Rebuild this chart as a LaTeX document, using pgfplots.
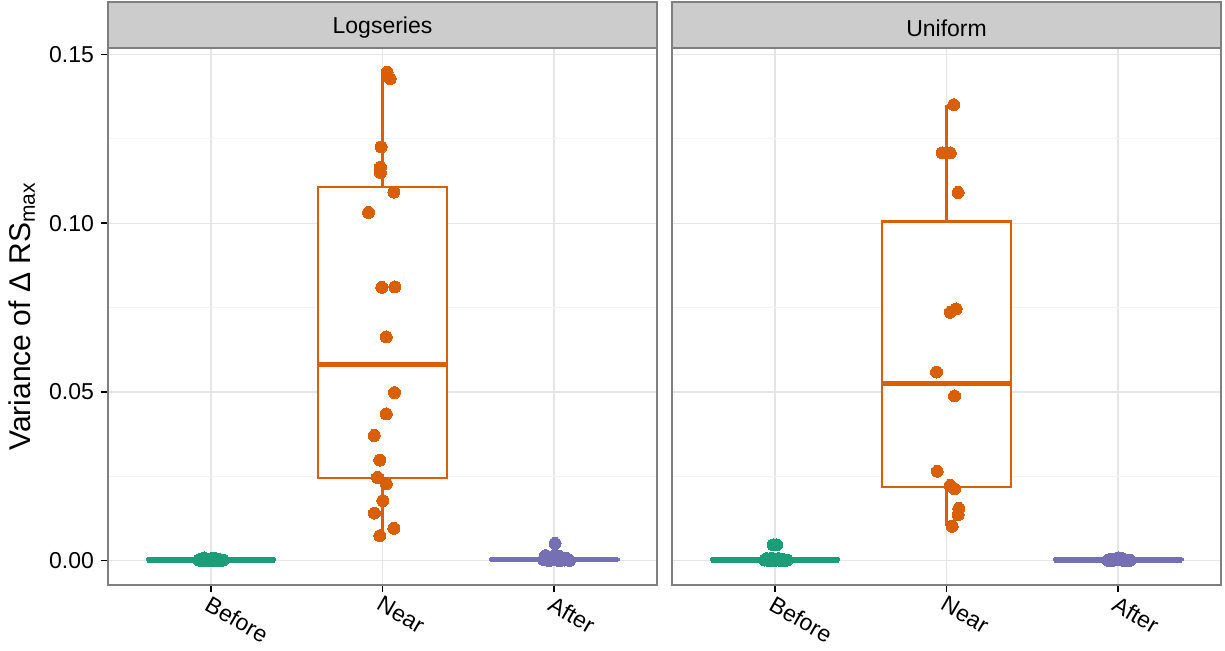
\documentclass[border=0pt]{standalone}
\usepackage{fontspec}
\setmainfont{Liberation Sans}
\usepackage{pgfplots}
\pgfplotsset{compat=1.18}
\usepgfplotslibrary{statistics}
\definecolor{cBefore}{HTML}{1B9E77}
\definecolor{cNear}{HTML}{D95F02}
\definecolor{cAfter}{HTML}{7570B3}
\definecolor{grey50}{HTML}{7F7F7F}
\definecolor{grey80}{HTML}{CCCCCC}
\definecolor{grey90}{HTML}{E5E5E5}
\definecolor{grey97}{HTML}{F4F4F4}
\pgfplotsset{
 panel/.style={
  scale only axis, width=274.5pt, height=268.5pt,
  xmin=0.4, xmax=3.6, ymin=-0.0072, ymax=0.1519,
  xtick={1,2,3}, xticklabels={Before,Near,After},
  ytick={0,0.05,0.1,0.15}, minor ytick={0.025,0.075,0.125},
  grid=both, major grid style={grey90, line width=0.6pt}, minor grid style={grey97, line width=0.6pt},
  axis line style={grey50, line width=0.7pt},
  tick align=outside, tick pos=left, major tick length=3.5pt, minor tick length=0pt,
  tick style={black, line width=0.7pt},
  ticklabel style={font=\fontsize{11.5}{13}\selectfont},
  xticklabel style={rotate=-30, anchor=north west, inner sep=1pt},
  /pgf/number format/assume math mode=true,
  yticklabel style={/pgf/number format/.cd, fixed, fixed zerofill, precision=2},
  scaled y ticks=false,
  boxplot/draw direction=y,
  boxplot/every median/.style={line width=2.6pt},
 },
 bx/.style={line width=1.1pt, fill=white, solid},
 pts/.style={only marks, mark=*, mark size=3pt, mark options={solid, line width=0pt}},
}
\begin{document}
\begin{tikzpicture}
\useasboundingbox (0,0) rectangle (612.5pt,325.5pt);
% ---------------- Logseries ----------------
\begin{axis}[panel, name=ax1, at={(54pt,33pt)}, anchor=south west,
  ylabel={Variance of Δ RS\textsubscript{max}},
  ylabel style={at={(axis description cs:0,0.5)}, anchor=center, yshift=43pt, font=\fontsize{15}{17}\selectfont}]
\addplot[bx, draw=cBefore, boxplot prepared={lower whisker=0, lower quartile=0.0001, median=0.0002, upper quartile=0.0004, upper whisker=0.0008, draw position=1, box extend=0.75, whisker extend=0}, mark=none] table[row sep=\\, y index=0] {y\\ 1\\};
\addplot[pts, cBefore] coordinates {
(0.93,0.0002) (0.94,0.0005) (0.95,0.0001) (0.96,0.0008) (0.97,0.0003) (0.98,0.0000)
(0.99,0.0004) (1.00,0.0001) (1.01,0.0007) (1.02,0.0002) (1.03,0.0006) (1.04,0.0000)
(1.05,0.0003) (1.06,0.0001) (0.95,0.0000) (1.02,0.0000) (1.07,0.0002) (0.98,0.0005)};
\addplot[bx, draw=cNear, boxplot prepared={lower whisker=0.0074, lower quartile=0.0245, median=0.0581, upper quartile=0.1108, upper whisker=0.1447, draw position=2, box extend=0.75, whisker extend=0}, mark=none] table[row sep=\\, y index=0] {y\\ 1\\};
\addplot[pts, cNear] coordinates {
(2.027,0.1447) (2.045,0.1428) (1.992,0.1226) (1.988,0.1166) (1.988,0.1150)
(2.066,0.1092) (1.919,0.1032) (1.996,0.0810) (2.072,0.0811) (2.022,0.0663)
(2.070,0.0498) (2.022,0.0435) (1.952,0.0371) (1.984,0.0298) (1.971,0.0247)
(2.022,0.0228) (2.002,0.0178) (1.953,0.0141) (2.066,0.0096) (1.984,0.0074)};
\addplot[bx, draw=cAfter, boxplot prepared={lower whisker=0, lower quartile=0.0001, median=0.0003, upper quartile=0.0006, upper whisker=0.0015, draw position=3, box extend=0.75, whisker extend=0}, mark=none] table[row sep=\\, y index=0] {y\\ 1\\};
\addplot[pts, cAfter] coordinates {
(2.94,0.0003) (2.95,0.0015) (2.96,0.0006) (2.98,0.0002) (3.00,0.0014) (3.006,0.0051)
(3.01,0.0004) (3.02,0.0009) (3.03,0.0013) (3.04,0.0001) (3.05,0.0005) (3.06,0.0002)
(3.07,0.0007) (3.08,0.0003) (3.09,0.0001) (2.97,0.0000) (3.03,0.0000)};
\end{axis}
\draw[grey50, line width=0.7pt, fill=grey80] (ax1.north west) rectangle ([yshift=23pt]ax1.north east);
\node[font=\fontsize{11.5}{13}\selectfont] at ([yshift=10pt]ax1.north) {Logseries};
% ---------------- Uniform ----------------
\begin{axis}[panel, name=ax2, at={(336pt,33pt)}, anchor=south west,
  yticklabels={}, ytick style={draw=none}]
\addplot[bx, draw=cBefore, boxplot prepared={lower whisker=0, lower quartile=0.0001, median=0.0002, upper quartile=0.0004, upper whisker=0.0007, draw position=1, box extend=0.75, whisker extend=0}, mark=none] table[row sep=\\, y index=0] {y\\ 1\\};
\addplot[pts, cBefore] coordinates {
(0.99,0.0047) (1.01,0.0047)
(0.94,0.0002) (0.95,0.0006) (0.96,0.0001) (0.97,0.0003) (0.98,0.0007) (0.99,0.0000)
(1.00,0.0004) (1.01,0.0002) (1.02,0.0006) (1.03,0.0001) (1.04,0.0005) (1.05,0.0003)
(1.06,0.0000) (1.07,0.0002)};
\addplot[bx, draw=cNear, boxplot prepared={lower whisker=0.0102, lower quartile=0.0218, median=0.0525, upper quartile=0.1005, upper whisker=0.1351, draw position=2, box extend=0.75, whisker extend=0}, mark=none] table[row sep=\\, y index=0] {y\\ 1\\};
\addplot[pts, cNear] coordinates {
(2.042,0.1351) (1.975,0.1208) (2.022,0.1208) (2.068,0.1091) (2.056,0.0746)
(2.022,0.0736) (1.942,0.0559) (2.047,0.0488) (1.946,0.0265) (2.022,0.0223)
(2.047,0.0213) (2.072,0.0155) (2.068,0.0136) (2.033,0.0102)};
\addplot[bx, draw=cAfter, boxplot prepared={lower whisker=0, lower quartile=0.0001, median=0.0002, upper quartile=0.0004, upper whisker=0.0008, draw position=3, box extend=0.75, whisker extend=0}, mark=none] table[row sep=\\, y index=0] {y\\ 1\\};
\addplot[pts, cAfter] coordinates {
(2.94,0.0001) (2.95,0.0003) (2.96,0.0000) (2.97,0.0005) (2.98,0.0002) (2.99,0.0006)
(3.00,0.0008) (3.01,0.0004) (3.02,0.0007) (3.03,0.0001) (3.04,0.0003) (3.05,0.0002)
(3.06,0.0000) (3.07,0.0001)};
\end{axis}
\draw[grey50, line width=0.7pt, fill=grey80] (ax2.north west) rectangle ([yshift=23pt]ax2.north east);
\node[font=\fontsize{11.5}{13}\selectfont] at ([yshift=10pt]ax2.north) {Uniform};
\end{tikzpicture}
\end{document}
